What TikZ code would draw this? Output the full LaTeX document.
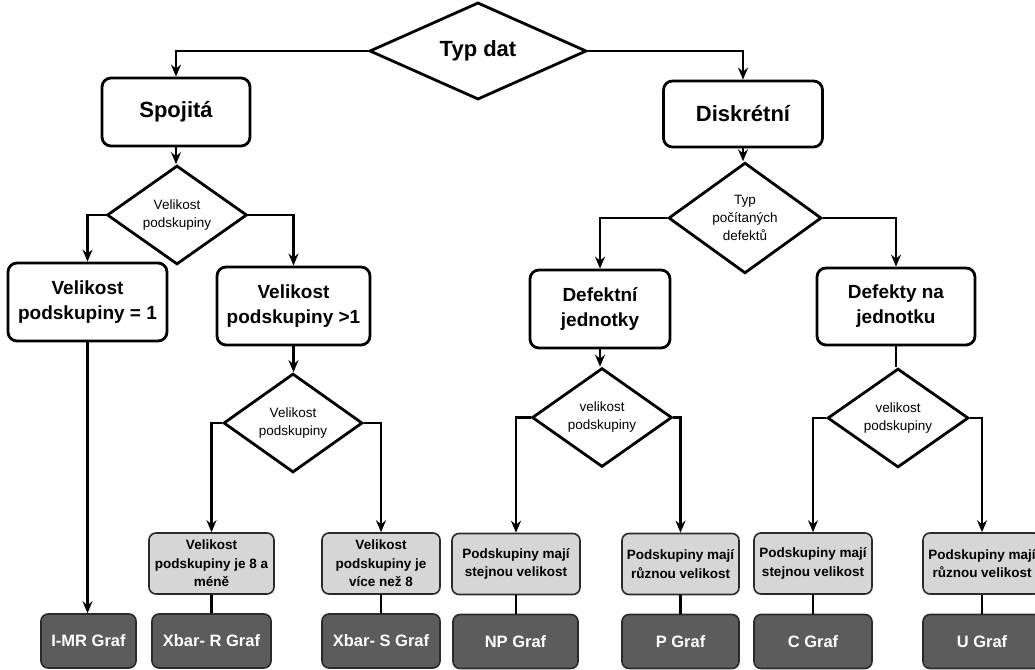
\documentclass[tikz,border=0pt]{standalone}
\usepackage{fontspec}
\setmainfont{Liberation Sans}
\usetikzlibrary{shapes.geometric,arrows.meta}

\definecolor{lightfill}{HTML}{D6D6D6}
\definecolor{darkfill}{HTML}{5C5C5C}
\definecolor{edgegray}{HTML}{2A2A2A}

\tikzset{
  every node/.style={inner sep=0pt, align=center},
  decision/.style={diamond, draw, line width=2.8pt, line join=miter, fill=white,
    font=\fontsize{13.5}{18}\selectfont},
  bigbox/.style={rectangle, rounded corners=9pt, draw, line width=2.8pt, fill=white,
    font=\bfseries\fontsize{22}{26}\selectfont},
  midbox/.style={rectangle, rounded corners=9pt, draw, line width=2.8pt, fill=white,
    font=\bfseries\fontsize{19}{25}\selectfont},
  lightbox/.style={rectangle, rounded corners=7pt, draw=edgegray, line width=1.6pt,
    fill=lightfill, minimum height=61pt, font=\bfseries\fontsize{13.5}{18.5}\selectfont},
  darkbox/.style={rectangle, rounded corners=7pt, draw=edgegray, line width=1.6pt,
    fill=darkfill, text=white, minimum height=54pt, font=\bfseries\fontsize{16.5}{20}\selectfont},
  arr/.style={line width=2.8pt, -{Stealth[length=12pt,width=10pt,inset=4pt]}},
  link/.style={line width=2.4pt},
}

\begin{document}
\begin{tikzpicture}[x=1pt,y=-1pt]
\useasboundingbox (0,0) rectangle (1035,669);
\clip (0,0) rectangle (1035,669);

% top decision
\node[decision, minimum width=217pt, minimum height=86pt,
      font=\bfseries\fontsize{22}{26}\selectfont] (typ) at (478,51) {Typ dat};

% data type boxes
\node[bigbox, minimum width=148pt, minimum height=68pt] (spoj) at (176,112) {Spojitá};
\node[bigbox, minimum width=159pt, minimum height=66pt] (disk) at (743,114) {Diskrétní};

% second-level decisions
\node[decision, minimum width=140pt, minimum height=86pt] (d1) at (177,215) {Velikost\\podskupiny};
\node[decision, minimum width=153pt, minimum height=88pt] (d2) at (745,218) {Typ\\počítaných\\defektů};

% second-level boxes
\node[midbox, minimum width=159pt, minimum height=78pt] (b1) at (87.5,302) {Velikost\\podskupiny = 1};
\node[midbox, minimum width=153pt, minimum height=78pt] (b2) at (293.5,306) {Velikost\\podskupiny >1};
\node[midbox, minimum width=140pt, minimum height=78pt] (b3) at (600,309) {Defektní\\jednotky};
\node[midbox, minimum width=158pt, minimum height=77pt] (b4) at (896,306.5) {Defekty na\\jednotku};

% third-level decisions
\node[decision, minimum width=139pt, minimum height=85pt] (d3) at (293,423) {Velikost\\podskupiny};
\node[decision, minimum width=140pt, minimum height=77pt] (d4) at (602,417.5) {velikost\\podskupiny};
\node[decision, minimum width=141pt, minimum height=78pt] (d5) at (898,418) {velikost\\podskupiny};

% subgroup conditions
\node[lightbox, minimum width=125pt] (l1) at (211.5,563.5) {Velikost\\podskupiny je 8 a\\méně};
\node[lightbox, minimum width=118pt] (l2) at (381,563.5) {Velikost\\podskupiny je\\více než 8};
\node[lightbox, minimum width=128pt] (l3) at (516,564) {Podskupiny mají\\stejnou velikost};
\node[lightbox, minimum width=117pt] (l4) at (680.5,564) {Podskupiny mají\\různou velikost};
\node[lightbox, minimum width=118pt] (l5) at (813,563.5) {Podskupiny mají\\stejnou velikost};
\node[lightbox, minimum width=118pt] (l6) at (982,563.5) {Podskupiny mají\\různou velikost};

% chart types
\node[darkbox, minimum width=95pt]  (g0) at (88.5,641) {I-MR Graf};
\node[darkbox, minimum width=119pt] (g1) at (211.5,641) {Xbar- R Graf};
\node[darkbox, minimum width=118pt] (g2) at (381,641) {Xbar- S Graf};
\node[darkbox, minimum width=125pt] (g3) at (515.5,641.5) {NP Graf};
\node[darkbox, minimum width=117pt] (g4) at (680.5,641.5) {P Graf};
\node[darkbox, minimum width=118pt] (g5) at (813,641.5) {C Graf};
\node[darkbox, minimum width=118pt] (g6) at (982,641.5) {U Graf};

% connectors
\draw[arr] (typ.west) -| (spoj.north);
\draw[arr] (typ.east) -| (disk.north);

\draw[arr] (spoj.south) -- (spoj.south |- d1.north);
\draw[arr] (d1.west) -| (b1.north);
\draw[arr] (d1.east) -| (b2.north);

\draw[arr] (disk.south) -- (disk.south |- d2.north);
\draw[arr] (d2.west) -| (b3.north);
\draw[arr] (d2.east) -| (b4.north);

\draw[arr] (b1.south) -- (b1.south |- g0.north);
\draw[arr] (b2.south) -- (b2.south |- d3.north);
\draw[arr] (b3.south) -- (b3.south |- d4.north);
\draw[link] (b4.south) -- (b4.south |- d5.north);

\draw[arr] (d3.west) -| (l1.north);
\draw[arr] (d3.east) -| (l2.north);
\draw[arr] (d4.west) -| (l3.north);
\draw[arr] (d4.east) -| (l4.north);
\draw[arr] (d5.west) -| (l5.north);
\draw[arr] (d5.east) -| (l6.north);

\draw[link] (l1.south) -- (g1.north);
\draw[link] (l2.south) -- (g2.north);
\draw[link] (l3.south) -- (l3.south |- g3.north);
\draw[link] (l4.south) -- (g4.north);
\draw[link] (l5.south) -- (g5.north);
\draw[link] (l6.south) -- (g6.north);
\end{tikzpicture}
\end{document}
